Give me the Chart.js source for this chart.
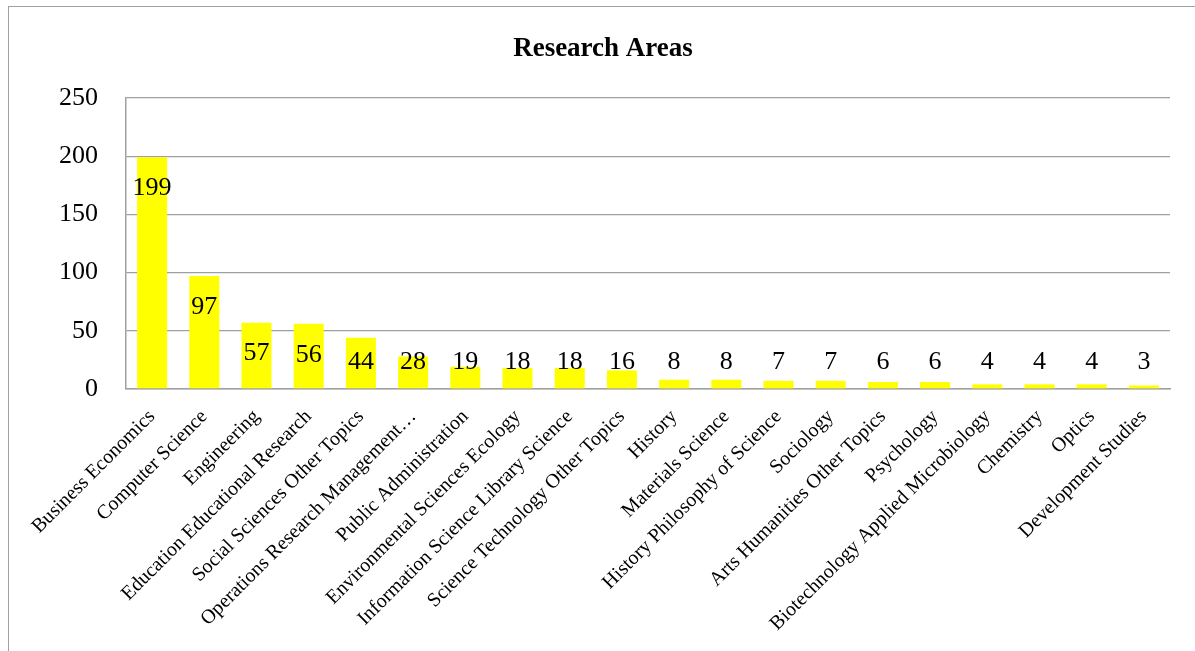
<!DOCTYPE html>
<html>
<head>
<meta charset="utf-8">
<script src="https://cdn.jsdelivr.net/npm/chart.js@4/dist/chart.umd.min.js"></script>
<style>
  html, body { margin: 0; padding: 0; background: #fff; overflow: hidden; }
  #wrap { position: relative; width: 1195px; height: 651px; }
  #frame { position: absolute; left: 8px; top: 6px; width: 1250px; height: 700px; border: 1px solid #a0a0a0; pointer-events: none; }
  canvas { position: absolute; left: 0; top: 0; }
</style>
</head>
<body>
<div id="wrap">
  <canvas id="c" width="1195" height="651"></canvas>
  <div id="frame"></div>
</div>
<script>
const titleText = "Research Areas";
const categories = [
  "Business Economics",
  "Computer Science",
  "Engineering",
  "Education Educational Research",
  "Social Sciences Other Topics",
  "Operations Research Management…",
  "Public Administration",
  "Environmental Sciences Ecology",
  "Information Science Library Science",
  "Science Technology Other Topics",
  "History",
  "Materials Science",
  "History Philosophy of Science",
  "Sociology",
  "Arts Humanities Other Topics",
  "Psychology",
  "Biotechnology Applied Microbiology",
  "Chemistry",
  "Optics",
  "Development Studies"
];
const values = [199, 97, 57, 56, 44, 28, 19, 18, 18, 16, 8, 8, 7, 7, 6, 6, 4, 4, 4, 3];
const yTicks = [0, 50, 100, 150, 200, 250];

const FONT = "'Liberation Serif', 'Times New Roman', serif";

const dataLabels = {
  id: 'dataLabels',
  afterDatasetsDraw(chart) {
    const ctx = chart.ctx;
    const meta = chart.getDatasetMeta(0);
    const ys = chart.scales.y;
    const base = ys.getPixelForValue(0);
    ctx.save();
    ctx.font = "26px " + FONT;
    ctx.fillStyle = "#000";
    ctx.textAlign = "center";
    ctx.textBaseline = "middle";
    meta.data.forEach((bar, i) => {
      const v = chart.data.datasets[0].data[i];
      const y = Math.min(bar.y + 31, base - 27);
      ctx.fillText(String(v), bar.x, y);
    });
    ctx.restore();
  }
};

new Chart(document.getElementById('c'), {
  type: 'bar',
  data: {
    labels: categories,
    datasets: [{
      data: values,
      backgroundColor: '#FFFF00',
      borderWidth: 0,
      barPercentage: 0.575,
      categoryPercentage: 1.0
    }]
  },
  options: {
    responsive: false,
    animation: false,
    devicePixelRatio: 1,
    layout: { padding: { top: 33, left: 36, right: 25, bottom: 0 } },
    plugins: {
      legend: { display: false },
      tooltip: { enabled: false },
      title: {
        display: true,
        text: titleText,
        color: '#000',
        font: { family: FONT, size: 27, weight: 'bold', lineHeight: 1.2 },
        padding: { top: 0, bottom: 32.6 }
      }
    },
    scales: {
      x: {
        grid: { display: false },
        border: { display: true, color: '#a0a0a0', width: 1.5 },
        ticks: {
          autoSkip: false,
          maxRotation: 45,
          minRotation: 45,
          color: '#000',
          padding: 8,
          font: { family: FONT, size: 20 }
        },
        afterFit(scale) { scale.height = 651 - 389; }
      },
      y: {
        min: 0,
        max: 250,
        afterBuildTicks(scale) { scale.ticks = yTicks.map(v => ({ value: v })); },
        grid: { color: '#a0a0a0', lineWidth: 1.3, drawTicks: false },
        border: { display: true, color: '#a0a0a0', width: 1.5 },
        ticks: {
          color: '#000',
          padding: 28,
          font: { family: FONT, size: 26 }
        },
        afterFit(scale) { scale.width = 90; }
      }
    }
  },
  plugins: [dataLabels]
});
</script>
</body>
</html>
